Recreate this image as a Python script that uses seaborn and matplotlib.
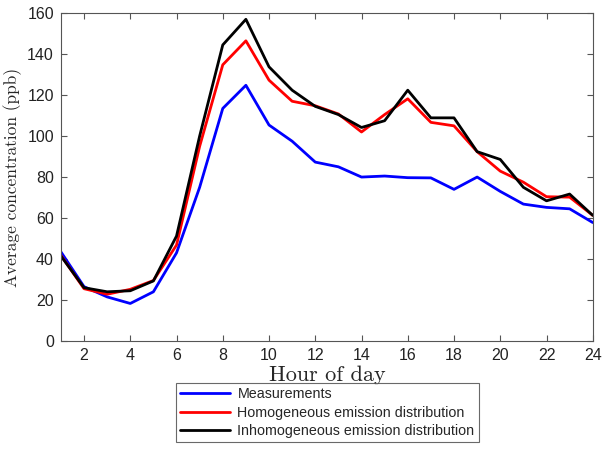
import numpy as np
import pandas as pd
import seaborn as sns
import matplotlib
matplotlib.use('Agg')
import matplotlib.pyplot as plt

# 数据: 每小时平均浓度 (ppb)
hours = list(range(1, 25))
measurements = [43.5, 26.5, 21.5, 18.3, 24, 43, 75, 113.5, 124.8, 105.4, 97.5, 87.3,
                85, 80, 80.5, 79.7, 79.6, 74, 80, 73, 66.8, 65.2, 64.5, 57.8]
homogeneous = [41.8, 25.5, 22.8, 25.2, 29.5, 46.8, 95, 134.8, 146.5, 127.3, 117, 114.8,
               110.8, 102, 110.5, 118.2, 106.7, 105, 92.4, 82.9, 77.5, 70.4, 70.2, 61.3]
inhomogeneous = [41.5, 26, 24, 24.5, 29.3, 51.2, 100, 144.5, 157, 133.8, 122.4, 114.5,
                 110.5, 104.2, 107.5, 122.4, 108.9, 108.9, 92.4, 88.6, 75, 68.4, 71.7, 61.3]

series_names = ['Measurements', 'Homogeneous emission distribution',
                'Inhomogeneous emission distribution']
series_colors = ['#0000ff', '#ff0000', '#000000']

df = pd.DataFrame({
    'hour': hours * 3,
    'value': measurements + homogeneous + inhomogeneous,
    'series': [series_names[0]] * 24 + [series_names[1]] * 24 + [series_names[2]] * 24,
})

# MATLAB 风格: 刻度朝内, 四边都有
sns.set_style('ticks', {
    'xtick.direction': 'in', 'ytick.direction': 'in',
    'xtick.top': True, 'ytick.right': True,
    'xtick.bottom': True, 'ytick.left': True,
})
plt.rcParams['font.family'] = ['Liberation Sans', 'DejaVu Sans']
plt.rcParams['xtick.major.size'] = 4
plt.rcParams['ytick.major.size'] = 4

fig = plt.figure(figsize=(6.03, 4.54), dpi=100)
ax = fig.add_axes([0.101, 0.249, 0.882, 0.722])

sns.lineplot(data=df, x='hour', y='value', hue='series', hue_order=series_names,
             palette=series_colors, linewidth=2, ax=ax, legend=False)

ax.set_xlim(1, 24)
ax.set_ylim(0, 160)
ax.set_xticks(np.arange(2, 25, 2))
ax.set_yticks(np.arange(0, 161, 20))
ax.tick_params(which='major', direction='in', bottom=True, left=True, top=True, right=True,
               length=4, width=0.8, color='#555555', labelcolor='#222222',
               labelsize=11.5, pad=5)
for s in ax.spines.values():
    s.set_color('#555555')
    s.set_linewidth(0.8)

ax.set_xlabel('Hour of day', fontfamily='cmr10', fontsize=16, labelpad=2)
ax.set_ylabel('Average concentration (ppb)', fontfamily='cmr10', fontsize=12.5, labelpad=4)

# 图例放在坐标轴下方
handles = [plt.Line2D([], [], color=c, linewidth=2) for c in series_colors]
leg = fig.legend(handles, series_names, loc='lower center', bbox_to_anchor=(0.543, 0.01),
                 fontsize=10.3, frameon=True, fancybox=False, handlelength=3.5,
                 handletextpad=0.5, labelspacing=0.3, borderpad=0.3)
leg.get_frame().set_edgecolor('#444444')
leg.get_frame().set_linewidth(0.8)

fig.savefig('out.png', dpi=100)
